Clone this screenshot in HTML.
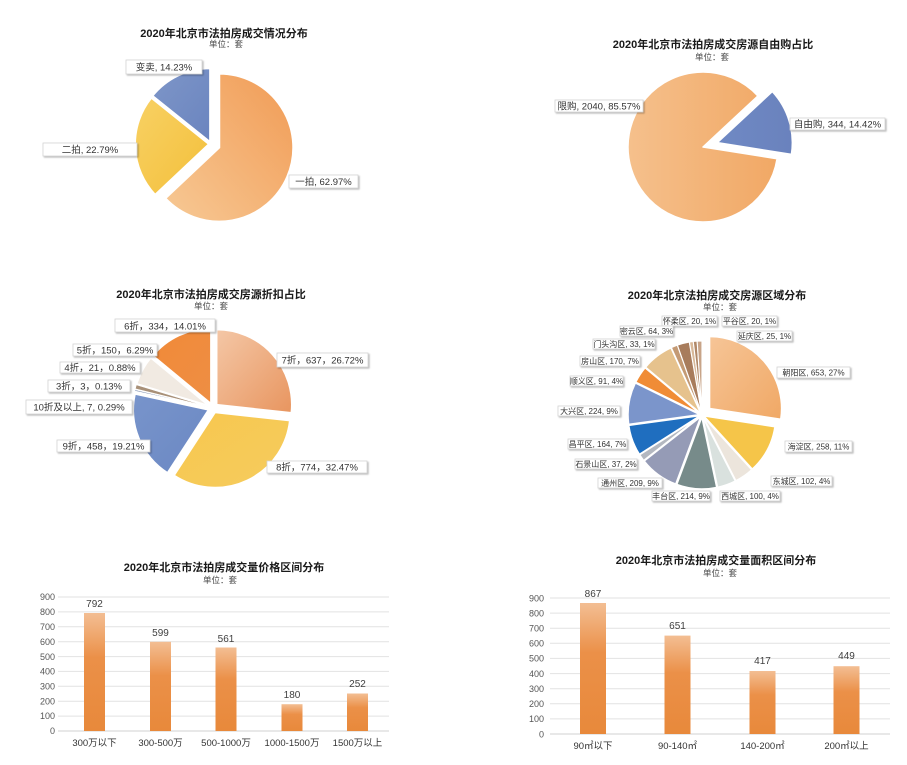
<!DOCTYPE html>
<html><head><meta charset="utf-8">
<style>
html,body{margin:0;padding:0;background:#fff;}
svg{display:block;font-family:"Liberation Sans","Noto Sans CJK SC",sans-serif;}
.t{font-size:11px;font-weight:bold;fill:#1a1a1a;text-anchor:middle;}
.st{font-size:8.5px;fill:#444;text-anchor:middle;}
.lb{fill:#fff;stroke:#d4d4d4;stroke-width:0.8;filter:url(#sh);}
.lt{font-size:9.5px;fill:#333;text-anchor:middle;}
.lt4{font-size:8px;fill:#333;text-anchor:middle;}
.ya{font-size:9px;fill:#555;text-anchor:end;}
.xa{font-size:9.5px;fill:#333;text-anchor:middle;}
.vl{font-size:10px;fill:#404040;text-anchor:middle;}
.gl{stroke:#e2e2e2;stroke-width:1;}
</style></head>
<body>
<svg id="s" width="907" height="765" viewBox="0 0 907 765" xmlns="http://www.w3.org/2000/svg">
<defs>
<filter id="sh" x="-10%" y="-30%" width="130%" height="180%">
<feDropShadow dx="1.2" dy="1.2" stdDeviation="0.8" flood-color="#000" flood-opacity="0.28"/>
</filter>
<linearGradient id="g1o" x1="0" y1="1" x2="1" y2="0"><stop offset="0" stop-color="#f7c995"/><stop offset="1" stop-color="#f19b55"/></linearGradient>
<linearGradient id="g1y" x1="0" y1="0" x2="1" y2="1"><stop offset="0" stop-color="#f8d164"/><stop offset="1" stop-color="#f3bf3a"/></linearGradient>
<linearGradient id="g1b" x1="0" y1="0" x2="1" y2="1"><stop offset="0" stop-color="#7e96c8"/><stop offset="1" stop-color="#6a84bf"/></linearGradient>
<linearGradient id="g2o" x1="0" y1="0" x2="1" y2="0"><stop offset="0" stop-color="#f5c08c"/><stop offset="1" stop-color="#f1a865"/></linearGradient>
<linearGradient id="g2b" x1="0" y1="0" x2="1" y2="0"><stop offset="0" stop-color="#6f89c4"/><stop offset="1" stop-color="#6a82bd"/></linearGradient>
<linearGradient id="g3a" x1="0" y1="0" x2="1" y2="1"><stop offset="0" stop-color="#f4c7a6"/><stop offset="1" stop-color="#e8955f"/></linearGradient>
<linearGradient id="g3y" x1="0" y1="0" x2="1" y2="1"><stop offset="0" stop-color="#f7c74e"/><stop offset="1" stop-color="#f6cc5e"/></linearGradient>
<linearGradient id="g3o" x1="0" y1="0" x2="1" y2="1"><stop offset="0" stop-color="#f18a38"/><stop offset="1" stop-color="#ee8e44"/></linearGradient>
<linearGradient id="g3b" x1="0" y1="0" x2="1" y2="1"><stop offset="0" stop-color="#7894cb"/><stop offset="1" stop-color="#6b88c3"/></linearGradient>
<linearGradient id="g4a" x1="0" y1="0" x2="1" y2="1"><stop offset="0" stop-color="#f6c597"/><stop offset="1" stop-color="#f0a865"/></linearGradient>
<linearGradient id="gbar" x1="0" y1="0" x2="0" y2="1"><stop offset="0" stop-color="#f3be93"/><stop offset="0.38" stop-color="#eb9048"/><stop offset="1" stop-color="#e8893b"/></linearGradient>
</defs>
<rect x="0" y="0" width="907" height="765" fill="#fff"/>
<g id="pies"></g>

<!-- Chart 1 -->
<text class="t" x="224" y="37">2020年北京市法拍房成交情况分布</text>
<text class="st" x="226" y="47">单位：套</text>
<rect class="lb" x="126" y="60" width="76" height="14"/>
<text class="lt" x="164" y="70.5">变卖, 14.23%</text>
<rect class="lb" x="43" y="143" width="94" height="13"/>
<text class="lt" x="90" y="153">二拍, 22.79%</text>
<rect class="lb" x="289" y="175" width="69" height="13"/>
<text class="lt" x="323.5" y="185">一拍, 62.97%</text>

<!-- Chart 2 -->
<text class="t" x="713" y="48">2020年北京市法拍房成交房源自由购占比</text>
<text class="st" x="712" y="60">单位：套</text>
<rect class="lb" x="555" y="100" width="88" height="12"/>
<text class="lt" x="599" y="109.5">限购, 2040, 85.57%</text>
<rect class="lb" x="790" y="118" width="95" height="12"/>
<text class="lt" x="837.5" y="127.5">自由购, 344, 14.42%</text>

<!-- Chart 3 -->
<text class="t" x="211" y="298">2020年北京市法拍房成交房源折扣占比</text>
<text class="st" x="211" y="309">单位：套</text>
<rect class="lb" x="115" y="319" width="100" height="13"/>
<text class="lt" x="165" y="329.5">6折，334，14.01%</text>
<rect class="lb" x="73" y="344" width="84" height="12"/>
<text class="lt" x="115" y="353.5">5折，150，6.29%</text>
<rect class="lb" x="60" y="362" width="80" height="11"/>
<text class="lt" x="100" y="371">4折，21，0.88%</text>
<rect class="lb" x="48" y="380" width="82" height="12"/>
<text class="lt" x="89" y="389.5">3折，3，0.13%</text>
<rect class="lb" x="26" y="400" width="106" height="14"/>
<text class="lt" x="79" y="410.5">10折及以上, 7, 0.29%</text>
<rect class="lb" x="57" y="440" width="93" height="12"/>
<text class="lt" x="103.5" y="449.5">9折，458，19.21%</text>
<rect class="lb" x="277" y="353" width="91" height="14"/>
<text class="lt" x="322.5" y="363.5">7折，637，26.72%</text>
<rect class="lb" x="267" y="461" width="100" height="12"/>
<text class="lt" x="317" y="470.5">8折，774，32.47%</text>

<!-- Chart 4 -->
<text class="t" x="717" y="299">2020年北京法拍房成交房源区域分布</text>
<text class="st" x="720" y="310">单位：套</text>
<rect class="lb" x="662" y="316" width="55" height="10"/><text class="lt4" x="689.5" y="324">怀柔区, 20, 1%</text>
<rect class="lb" x="722" y="316" width="55" height="10"/><text class="lt4" x="749.5" y="324">平谷区, 20, 1%</text>
<rect class="lb" x="620" y="326" width="53" height="10"/><text class="lt4" x="646.5" y="334">密云区, 64, 3%</text>
<rect class="lb" x="737" y="331" width="55" height="10"/><text class="lt4" x="764.5" y="339">延庆区, 25, 1%</text>
<rect class="lb" x="593" y="339" width="62" height="10"/><text class="lt4" x="624" y="347">门头沟区, 33, 1%</text>
<rect class="lb" x="580" y="356" width="60" height="10"/><text class="lt4" x="610" y="364">房山区, 170, 7%</text>
<rect class="lb" x="777" y="367" width="73" height="11"/><text class="lt4" x="813.5" y="375.5">朝阳区, 653, 27%</text>
<rect class="lb" x="570" y="376" width="53" height="10"/><text class="lt4" x="596.5" y="384">顺义区, 91, 4%</text>
<rect class="lb" x="558" y="406" width="62" height="10"/><text class="lt4" x="589" y="414">大兴区, 224, 9%</text>
<rect class="lb" x="785" y="441" width="67" height="11"/><text class="lt4" x="818.5" y="449.5">海淀区, 258, 11%</text>
<rect class="lb" x="568" y="439" width="59" height="10"/><text class="lt4" x="597.5" y="447">昌平区, 164, 7%</text>
<rect class="lb" x="575" y="459" width="62" height="10"/><text class="lt4" x="606" y="467">石景山区, 37, 2%</text>
<rect class="lb" x="771" y="476" width="61" height="10"/><text class="lt4" x="801.5" y="484">东城区, 102, 4%</text>
<rect class="lb" x="598" y="478" width="64" height="10"/><text class="lt4" x="630" y="486">通州区, 209, 9%</text>
<rect class="lb" x="652" y="491" width="58" height="10"/><text class="lt4" x="681" y="499">丰台区, 214, 9%</text>
<rect class="lb" x="720" y="491" width="60" height="10"/><text class="lt4" x="750" y="499">西城区, 100, 4%</text>

<!-- Bar chart 1 -->
<text class="t" x="224" y="571">2020年北京市法拍房成交量价格区间分布</text>
<text class="st" x="220" y="583">单位：套</text>
<g>
<line class="gl" x1="58" y1="597" x2="389" y2="597"/>
<line class="gl" x1="58" y1="611.9" x2="389" y2="611.9"/>
<line class="gl" x1="58" y1="626.8" x2="389" y2="626.8"/>
<line class="gl" x1="58" y1="641.7" x2="389" y2="641.7"/>
<line class="gl" x1="58" y1="656.6" x2="389" y2="656.6"/>
<line class="gl" x1="58" y1="671.4" x2="389" y2="671.4"/>
<line class="gl" x1="58" y1="686.3" x2="389" y2="686.3"/>
<line class="gl" x1="58" y1="701.2" x2="389" y2="701.2"/>
<line class="gl" x1="58" y1="716.1" x2="389" y2="716.1"/>
<line x1="58" y1="731" x2="389" y2="731" stroke="#d0d0d0" stroke-width="1"/>
</g>
<text class="ya" x="55" y="600">900</text>
<text class="ya" x="55" y="615">800</text>
<text class="ya" x="55" y="630">700</text>
<text class="ya" x="55" y="645">600</text>
<text class="ya" x="55" y="660">500</text>
<text class="ya" x="55" y="674.5">400</text>
<text class="ya" x="55" y="689.5">300</text>
<text class="ya" x="55" y="704.5">200</text>
<text class="ya" x="55" y="719">100</text>
<text class="ya" x="55" y="734">0</text>
<rect x="84" y="613" width="21" height="118" fill="url(#gbar)"/>
<rect x="150" y="641.8" width="21" height="89.2" fill="url(#gbar)"/>
<rect x="215.5" y="647.5" width="21" height="83.5" fill="url(#gbar)"/>
<rect x="281.5" y="704.2" width="21" height="26.8" fill="url(#gbar)"/>
<rect x="347" y="693.5" width="21" height="37.5" fill="url(#gbar)"/>
<text class="vl" x="94.5" y="607">792</text>
<text class="vl" x="160.5" y="636">599</text>
<text class="vl" x="226" y="642">561</text>
<text class="vl" x="292" y="698">180</text>
<text class="vl" x="357.5" y="687">252</text>
<text class="xa" x="94.5" y="746">300万以下</text>
<text class="xa" x="160.5" y="746">300-500万</text>
<text class="xa" x="226" y="746">500-1000万</text>
<text class="xa" x="292" y="746">1000-1500万</text>
<text class="xa" x="357.5" y="746">1500万以上</text>

<!-- Bar chart 2 -->
<text class="t" x="716" y="564">2020年北京市法拍房成交量面积区间分布</text>
<text class="st" x="720" y="576">单位：套</text>
<g>
<line class="gl" x1="550" y1="598" x2="890" y2="598"/>
<line class="gl" x1="550" y1="613.1" x2="890" y2="613.1"/>
<line class="gl" x1="550" y1="628.2" x2="890" y2="628.2"/>
<line class="gl" x1="550" y1="643.3" x2="890" y2="643.3"/>
<line class="gl" x1="550" y1="658.4" x2="890" y2="658.4"/>
<line class="gl" x1="550" y1="673.6" x2="890" y2="673.6"/>
<line class="gl" x1="550" y1="688.7" x2="890" y2="688.7"/>
<line class="gl" x1="550" y1="703.8" x2="890" y2="703.8"/>
<line class="gl" x1="550" y1="718.9" x2="890" y2="718.9"/>
<line x1="550" y1="734" x2="890" y2="734" stroke="#d0d0d0" stroke-width="1"/>
</g>
<text class="ya" x="544" y="601.5">900</text>
<text class="ya" x="544" y="616.5">800</text>
<text class="ya" x="544" y="631.5">700</text>
<text class="ya" x="544" y="646.5">600</text>
<text class="ya" x="544" y="661.5">500</text>
<text class="ya" x="544" y="677">400</text>
<text class="ya" x="544" y="692">300</text>
<text class="ya" x="544" y="707">200</text>
<text class="ya" x="544" y="722">100</text>
<text class="ya" x="544" y="737.5">0</text>
<rect x="580" y="603" width="26" height="131" fill="url(#gbar)"/>
<rect x="664.5" y="635.6" width="26" height="98.4" fill="url(#gbar)"/>
<rect x="749.5" y="671" width="26" height="63" fill="url(#gbar)"/>
<rect x="833.5" y="666.2" width="26" height="67.8" fill="url(#gbar)"/>
<text class="vl" x="593" y="597">867</text>
<text class="vl" x="677.5" y="629">651</text>
<text class="vl" x="762.5" y="664">417</text>
<text class="vl" x="846.5" y="659">449</text>
<text class="xa" x="593" y="749">90㎡以下</text>
<text class="xa" x="677.5" y="749">90-140㎡</text>
<text class="xa" x="762.5" y="749">140-200㎡</text>
<text class="xa" x="846.5" y="749">200㎡以上</text>
</svg>
<script>
(function(){
var NS="http://www.w3.org/2000/svg";
var g=document.getElementById("pies");
function pt(cx,cy,r,a){var t=a*Math.PI/180;return [cx+r*Math.sin(t),cy-r*Math.cos(t)];}
function pie(cx,cy,r,start,data){
  var tot=0;data.forEach(function(d){tot+=d[0];});
  var a=start;
  data.forEach(function(d){
    var span=d[0]/tot*360,a0=a,a1=a+span;a=a1;
    var mid=(a0+a1)/2,m=mid*Math.PI/180,e=d[2]||0;
    var x=cx+e*Math.sin(m),y=cy-e*Math.cos(m);
    var p0=pt(x,y,r,a0),p1=pt(x,y,r,a1);
    var large=span>180?1:0;
    var p=document.createElementNS(NS,"path");
    p.setAttribute("d","M"+x.toFixed(2)+" "+y.toFixed(2)+" L"+p0[0].toFixed(2)+" "+p0[1].toFixed(2)+" A"+r+" "+r+" 0 "+large+" 1 "+p1[0].toFixed(2)+" "+p1[1].toFixed(2)+" Z");
    p.setAttribute("fill",d[1]);
    p.setAttribute("stroke","#fff");
    p.setAttribute("stroke-width",d[3]||1.5);
    p.setAttribute("stroke-linejoin","round");
    g.appendChild(p);
  });
}
pie(211,144,74,0,[[62.97,"url(#g1o)",9,2],[22.79,"url(#g1y)",2,2],[14.23,"url(#g1b)",2,2]]);
pie(703,147,75,99,[[85.57,"url(#g2o)",0],[14.42,"url(#g2b)",15]]);
pie(213,408,75,0,[[26.72,"url(#g3a)",5,1.5],[32.47,"url(#g3y)",5,1.5],[19.21,"url(#g3b)",5,1.5],[0.29,"#8a9ab8",5,0.6],[0.13,"#9c8068",5,0.6],[0.88,"#a89078",5,0.6],[6.29,"#f1eae2",5,1.5],[14.01,"url(#g3o)",5,1.5]]);
pie(702,415,72,0,[[653,"url(#g4a)",10],[258,"#f5c549",2],[102,"#ece5dc",2],[100,"#d9e1de",2],[214,"#778b8a",2],[209,"#959bb6",2],[37,"#b4b8c0",2],[164,"#1f6ebf",2],[224,"#7b95cb",2],[91,"#f08c36",2],[170,"#e6c28d",2],[33,"#c49a74",2,1],[64,"#a87c5c",2,1],[20,"#d8b898",2,1],[20,"#b08868",2,1],[25,"#c8a488",2,1]]);
})();
</script>
</body></html>
